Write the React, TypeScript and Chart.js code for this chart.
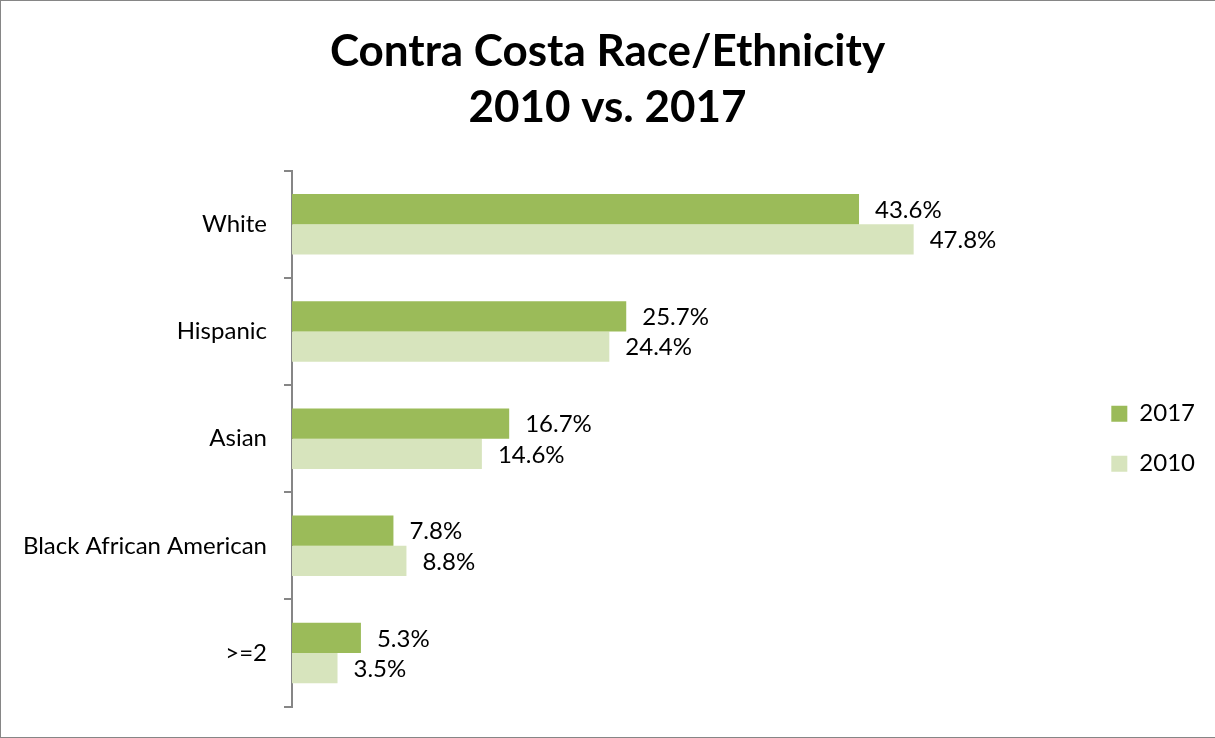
import React, { useEffect, useRef } from "react";
import { Chart, registerables } from "chart.js";

Chart.register(...registerables);

const categories = ["White", "Hispanic", "Asian", "Black African American", ">=2"];
const series2017 = [43.6, 25.7, 16.7, 7.8, 5.3];
const series2010 = [47.8, 24.4, 14.6, 8.8, 3.5];
const seriesLabels = ["2017", "2010"];
const titleLines = ["Contra Costa Race/Ethnicity", "2010 vs. 2017"];

const FONT = "Lato, 'Open Sans', sans-serif";

const frameBorder = {
  id: "frameBorder",
  afterDraw(chart: any) {
    const ctx = chart.ctx;
    const w = chart.width;
    const h = chart.height;
    ctx.save();
    ctx.strokeStyle = "#868686";
    ctx.lineWidth = 2;
    ctx.beginPath();
    ctx.moveTo(w, 0);
    ctx.lineTo(0, 0);
    ctx.lineTo(0, h);
    ctx.lineTo(w, h);
    ctx.stroke();
    ctx.restore();
  },
};

const valueLabels = {
  id: "valueLabels",
  afterDatasetsDraw(chart: any) {
    const ctx = chart.ctx;
    ctx.save();
    ctx.font = `24px ${FONT}`;
    ctx.fillStyle = "#000";
    ctx.textAlign = "left";
    ctx.textBaseline = "middle";
    chart.data.datasets.forEach((ds: any, di: number) => {
      const meta = chart.getDatasetMeta(di);
      meta.data.forEach((el: any, i: number) => {
        ctx.fillText(ds.data[i].toFixed(1) + "%", el.x + 16, el.y + 1);
      });
    });
    ctx.restore();
  },
};

export default function App() {
  const ref = useRef<HTMLCanvasElement | null>(null);
  useEffect(() => {
    if (!ref.current) return;
    const chart = new Chart(ref.current, {
      type: "bar",
      data: {
        labels: categories,
        datasets: [
          {
            label: seriesLabels[0],
            data: series2017,
            backgroundColor: "#9BBB59",
            barPercentage: 1,
            categoryPercentage: 0.565,
          },
          {
            label: seriesLabels[1],
            data: series2010,
            backgroundColor: "#D7E4BD",
            barPercentage: 1,
            categoryPercentage: 0.565,
          },
        ],
      },
      options: {
        indexAxis: "y",
        responsive: false,
        animation: false,
        layout: { padding: { top: 0, bottom: 28, left: 10, right: 10 } },
        scales: {
          x: {
            display: false,
            min: 0,
            max: 61.0,
          },
          y: {
            afterFit(scale: any) {
              scale.width = 282;
            },
            border: { display: true, color: "#868686", width: 2 },
            grid: {
              offset: true,
              drawOnChartArea: false,
              drawTicks: true,
              tickLength: 8,
              color: "#868686",
              lineWidth: 2,
            },
            ticks: {
              color: "#000",
              padding: 17,
              font: { family: FONT, size: 24 },
            },
          },
        },
        plugins: {
          title: {
            display: true,
            text: titleLines,
            color: "#000",
            font: { family: FONT, size: 44, weight: "bold", lineHeight: 1.27 },
            padding: { top: 24, bottom: 35 },
          },
          legend: {
            position: "right",
            fullSize: false,
            labels: {
              boxWidth: 16,
              boxHeight: 16,
              padding: 26,
              color: "#000",
              font: { family: FONT, size: 24 },
            },
          },
          tooltip: { enabled: false },
        },
      },
      plugins: [frameBorder, valueLabels],
    });
    return () => chart.destroy();
  }, []);
  return (
    <div style={{ position: "absolute", left: 0, top: 0, width: 1215, height: 738, background: "#fff" }}>
      <canvas ref={ref} width={1215} height={738} />
    </div>
  );
}
